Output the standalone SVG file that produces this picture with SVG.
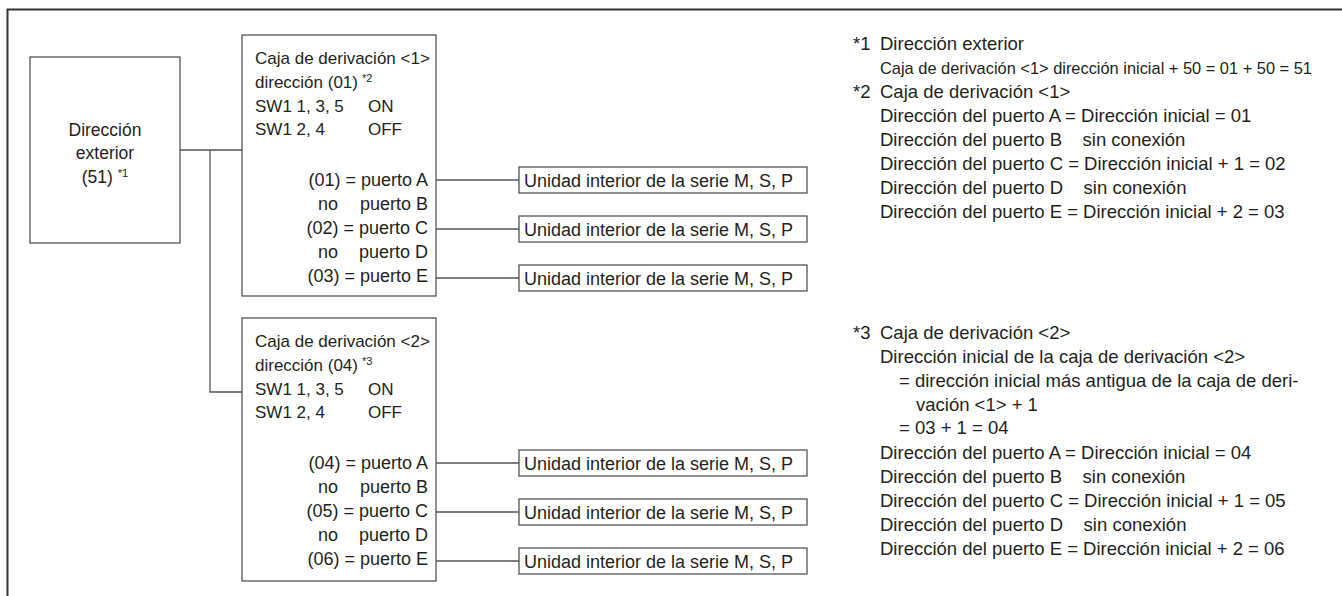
<svg xmlns="http://www.w3.org/2000/svg" width="1342" height="596" viewBox="0 0 1342 596">
<style>
text{font-family:"Liberation Sans",Arial,sans-serif;fill:#231f20;white-space:pre}
.frame{fill:none;stroke:#333;stroke-width:2}
.box{fill:#fff;stroke:#555;stroke-width:1.3}
.ln{fill:none;stroke:#555;stroke-width:1.3}
.bt{font-size:17px}
.pt{font-size:18px}
.r{text-anchor:end}
.ot{font-size:17.5px;text-anchor:middle}
.it{font-size:18px}
.nt{font-size:18.5px}
.nc{font-size:16.4px}
.sup{font-size:11px}
</style>
<path class="frame" d="M7.5 596 V9.5 H1342"/>
<g id="connectors">
<path class="ln" d="M180 150 H242 M210 150 V392 H242"/>
<path class="ln" d="M436 180 H519 M436 229 H519 M436 278 H519"/>
<path class="ln" d="M436 463 H519 M436 512 H519 M436 561 H519"/>
</g>
<g id="outdoor">
<rect class="box" x="30" y="57" width="150" height="186"/>
<text class="ot" x="105" y="136">Dirección</text>
<text class="ot" x="105" y="159">exterior</text>
<text class="ot" x="105" y="183">(51) <tspan class="sup" dy="-6">*1</tspan></text>
</g>
<g id="branch1">
<rect class="box" x="242" y="35" width="194" height="261"/>
<text class="bt" x="255" y="64">Caja de derivación &lt;1&gt;</text>
<text class="bt" x="255" y="88">dirección (01)</text><text class="sup" x="362" y="82">*2</text>
<text class="bt" x="255" y="112">SW1 1, 3, 5</text><text class="bt" x="368" y="112">ON</text>
<text class="bt" x="255" y="135">SW1 2, 4</text><text class="bt" x="368" y="135">OFF</text>
<text class="pt r" x="428" y="186">(01) = puerto A</text>
<text class="pt" x="318" y="210">no</text><text class="pt r" x="428" y="210">puerto B</text>
<text class="pt r" x="428" y="234">(02) = puerto C</text>
<text class="pt" x="318" y="258">no</text><text class="pt r" x="428" y="258">puerto D</text>
<text class="pt r" x="428" y="282">(03) = puerto E</text>
</g>
<g id="branch2">
<rect class="box" x="242" y="318" width="194" height="263"/>
<text class="bt" x="255" y="347">Caja de derivación &lt;2&gt;</text>
<text class="bt" x="255" y="371">dirección (04)</text><text class="sup" x="362" y="365">*3</text>
<text class="bt" x="255" y="395">SW1 1, 3, 5</text><text class="bt" x="368" y="395">ON</text>
<text class="bt" x="255" y="418">SW1 2, 4</text><text class="bt" x="368" y="418">OFF</text>
<text class="pt r" x="428" y="469">(04) = puerto A</text>
<text class="pt" x="318" y="493">no</text><text class="pt r" x="428" y="493">puerto B</text>
<text class="pt r" x="428" y="517">(05) = puerto C</text>
<text class="pt" x="318" y="541">no</text><text class="pt r" x="428" y="541">puerto D</text>
<text class="pt r" x="428" y="565">(06) = puerto E</text>
</g>
<g id="indoor1a"><rect class="box" x="519" y="167" width="288" height="26"/><text class="it" x="524" y="186.5">Unidad interior de la serie M, S, P</text></g>
<g id="indoor1c"><rect class="box" x="519" y="216" width="288" height="26"/><text class="it" x="524" y="235.5">Unidad interior de la serie M, S, P</text></g>
<g id="indoor1e"><rect class="box" x="519" y="265" width="288" height="26"/><text class="it" x="524" y="284.5">Unidad interior de la serie M, S, P</text></g>
<g id="indoor2a"><rect class="box" x="519" y="450" width="288" height="26"/><text class="it" x="524" y="469.5">Unidad interior de la serie M, S, P</text></g>
<g id="indoor2c"><rect class="box" x="519" y="499" width="288" height="26"/><text class="it" x="524" y="518.5">Unidad interior de la serie M, S, P</text></g>
<g id="indoor2e"><rect class="box" x="519" y="548" width="288" height="26"/><text class="it" x="524" y="567.5">Unidad interior de la serie M, S, P</text></g>
<g id="notes1">
<text class="nt" x="853" y="50">*1</text><text class="nt" x="880" y="50">Dirección exterior</text>
<text class="nc" x="880" y="74">Caja de derivación &lt;1&gt; dirección inicial + 50 = 01 + 50 = 51</text>
<text class="nt" x="853" y="98">*2</text><text class="nt" x="880" y="98">Caja de derivación &lt;1&gt;</text>
<text class="nt" x="880" y="122">Dirección del puerto A = Dirección inicial = 01</text>
<text class="nt" x="880" y="146">Dirección del puerto B    sin conexión</text>
<text class="nt" x="880" y="170">Dirección del puerto C = Dirección inicial + 1 = 02</text>
<text class="nt" x="880" y="194">Dirección del puerto D    sin conexión</text>
<text class="nt" x="880" y="218">Dirección del puerto E = Dirección inicial + 2 = 03</text>
</g>
<g id="notes3">
<text class="nt" x="853" y="339">*3</text><text class="nt" x="880" y="339">Caja de derivación &lt;2&gt;</text>
<text class="nt" x="880" y="363">Dirección inicial de la caja de derivación &lt;2&gt;</text>
<text class="nt" x="899" y="387">= dirección inicial más antigua de la caja de deri-</text>
<text class="nt" x="916" y="411">vación &lt;1&gt; + 1</text>
<text class="nt" x="899" y="434">= 03 + 1 = 04</text>
<text class="nt" x="880" y="459">Dirección del puerto A = Dirección inicial = 04</text>
<text class="nt" x="880" y="483">Dirección del puerto B    sin conexión</text>
<text class="nt" x="880" y="507">Dirección del puerto C = Dirección inicial + 1 = 05</text>
<text class="nt" x="880" y="531">Dirección del puerto D    sin conexión</text>
<text class="nt" x="880" y="555">Dirección del puerto E = Dirección inicial + 2 = 06</text>
</g>
</svg>
